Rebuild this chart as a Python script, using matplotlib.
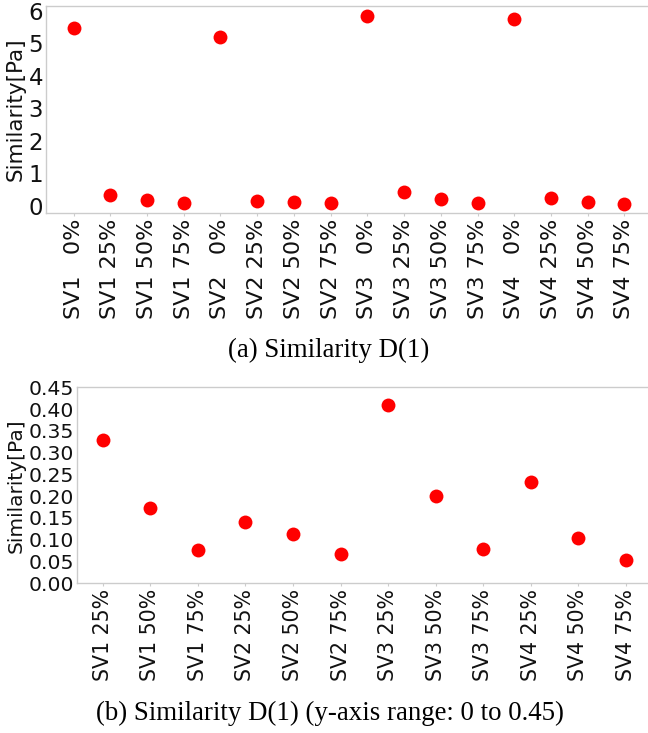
import matplotlib
matplotlib.use("Agg")
import matplotlib.pyplot as plt

plt.rcParams["font.family"] = ["DejaVu Sans"]

# ---- data ----
labels_a = ["SV1   0%", "SV1 25%", "SV1 50%", "SV1 75%",
            "SV2   0%", "SV2 25%", "SV2 50%", "SV2 75%",
            "SV3   0%", "SV3 25%", "SV3 50%", "SV3 75%",
            "SV4   0%", "SV4 25%", "SV4 50%", "SV4 75%"]
values_a = [5.45, 0.329, 0.174, 0.077,
            5.18, 0.141, 0.113, 0.068,
            5.83, 0.409, 0.200, 0.078,
            5.75, 0.233, 0.103, 0.054]

labels_b = ["SV1 25%", "SV1 50%", "SV1 75%",
            "SV2 25%", "SV2 50%", "SV2 75%",
            "SV3 25%", "SV3 50%", "SV3 75%",
            "SV4 25%", "SV4 50%", "SV4 75%"]
values_b = [0.329, 0.174, 0.077,
            0.141, 0.113, 0.068,
            0.409, 0.200, 0.078,
            0.233, 0.103, 0.054]

caption_a = "(a) Similarity D(1)"
caption_b = "(b) Similarity D(1) (y-axis range: 0 to 0.45)"
ylabel = "Similarity[Pa]"

W, H = 648, 733
fig = plt.figure(figsize=(W / 100, H / 100), dpi=100)

def px_axes(left, top, right, bottom):
    return fig.add_axes([left / W, 1 - bottom / H, (right - left) / W, (bottom - top) / H])

def style(ax, tick_fs_x, tick_fs_y, label_fs):
    for s in ax.spines.values():
        s.set_color("#cccccc")
        s.set_linewidth(1.0)
    ax.tick_params(axis="x", length=2.5, width=0.8, color="#cccccc", pad=1.5,
                   labelsize=tick_fs_x, labelcolor="#111111")
    ax.tick_params(axis="y", length=0, pad=2, labelsize=tick_fs_y, labelcolor="#111111")
    ax.set_ylabel(ylabel, fontsize=label_fs, labelpad=2, color="#111111")

# top chart
ax1 = px_axes(46, 6, 652, 213.3)
x1 = list(range(len(labels_a)))
ax1.scatter(x1, values_a, s=100, color="#ff0000", linewidths=0, zorder=3)
ax1.set_xticks(x1)
ax1.set_xticklabels(labels_a, rotation=90)
ax1.set_xlim(-0.75, len(labels_a) - 1 + 0.75)
ax1.set_ylim(-0.24, 6.14)
ax1.set_yticks([0, 1, 2, 3, 4, 5, 6])
style(ax1, 16, 16.5, 15.5)

# bottom chart
ax2 = px_axes(76.7, 387.3, 652, 583.3)
x2 = list(range(len(labels_b)))
ax2.scatter(x2, values_b, s=100, color="#ff0000", linewidths=0, zorder=3)
ax2.set_xticks(x2)
ax2.set_xticklabels(labels_b, rotation=90)
ax2.set_xlim(-0.55, len(labels_b) - 1 + 0.55)
ax2.set_ylim(0, 0.45)
ax2.set_yticks([0.0, 0.05, 0.10, 0.15, 0.20, 0.25, 0.30, 0.35, 0.40, 0.45])
ax2.set_yticklabels([f"{v:.2f}" for v in ax2.get_yticks()])
style(ax2, 14.8, 14.7, 14.5)

fig.text(329 / W, 1 - 350 / H, caption_a, family="Liberation Serif",
         fontsize=19.4, ha="center", va="center", color="black")
fig.text(330 / W, 1 - 713 / H, caption_b, family="Liberation Serif",
         fontsize=19.4, ha="center", va="center", color="black")

fig.savefig("out.png", dpi=100)
